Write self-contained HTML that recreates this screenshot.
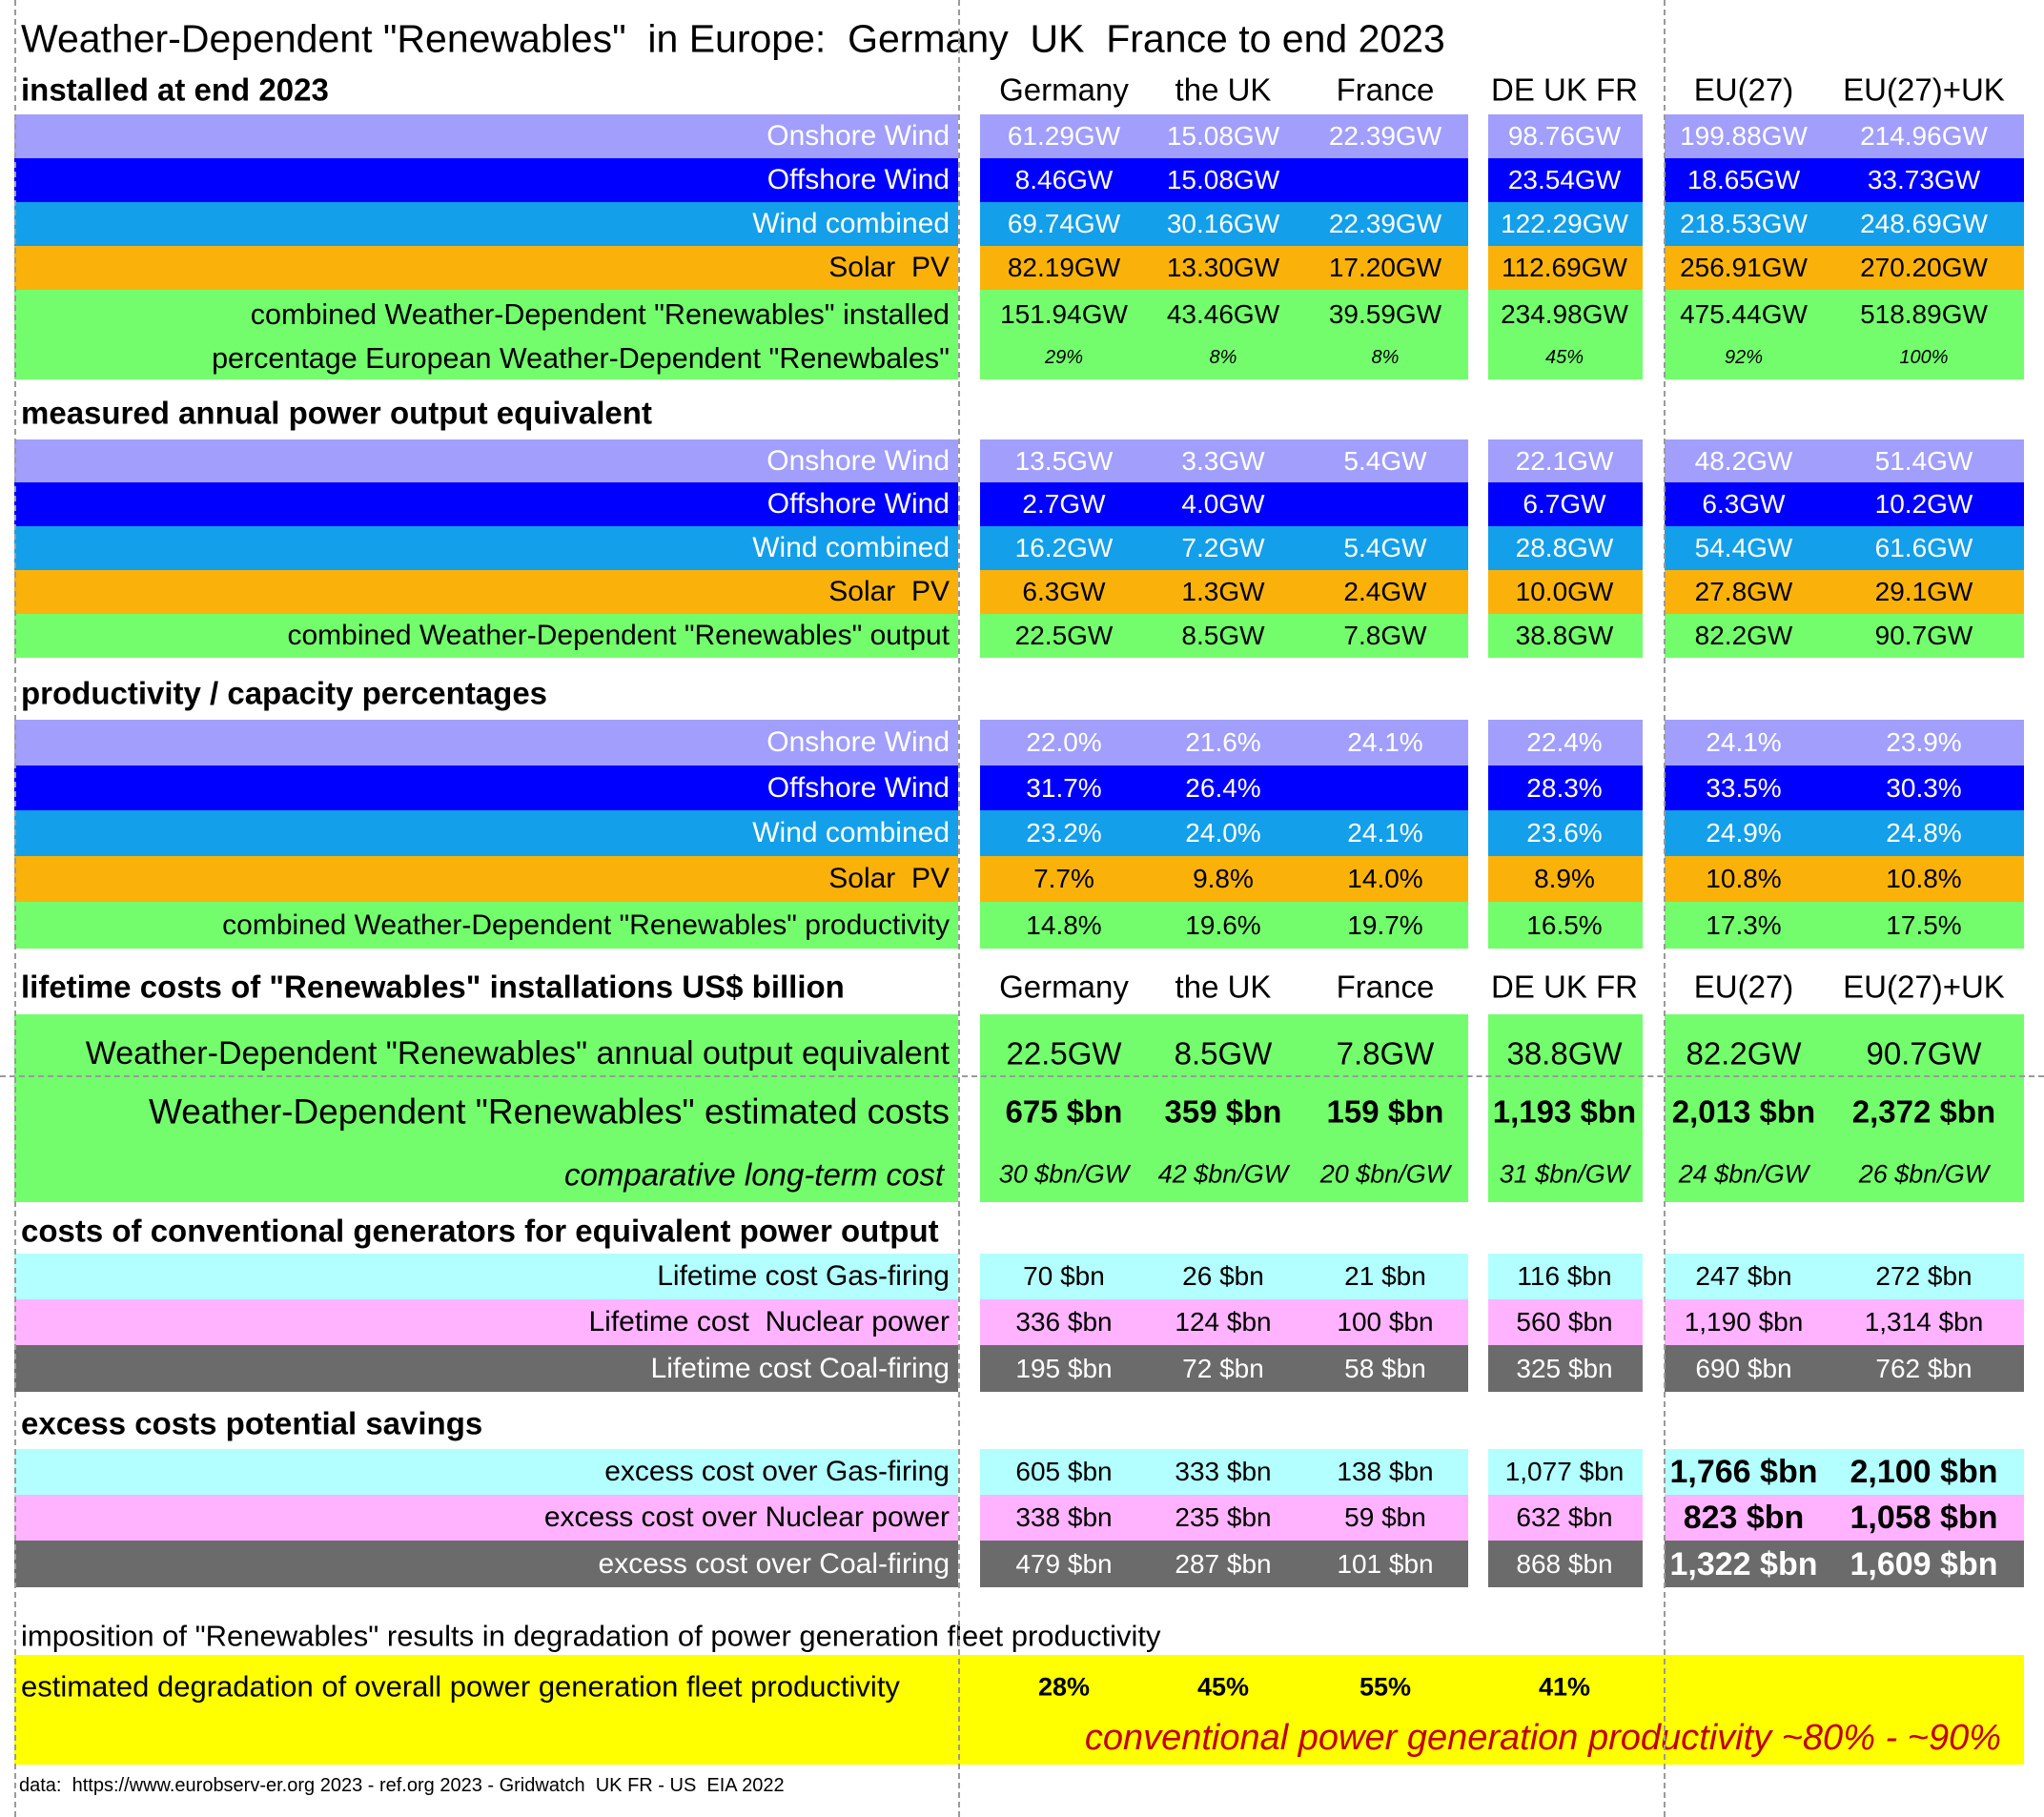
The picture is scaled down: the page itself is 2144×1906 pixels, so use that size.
<!DOCTYPE html>
<html><head><meta charset="utf-8">
<style>
html,body{margin:0;padding:0;background:#fff;}
#root{position:relative;width:2144px;height:1906px;overflow:hidden;font-family:"Liberation Sans",sans-serif;color:#000;}
.b{position:absolute;}
.t{position:absolute;white-space:pre;line-height:1;transform:translateY(-50%);}
.vd{position:absolute;top:0;height:1906px;width:0;border-left:2px dashed #9a9a9a;}
.hd{position:absolute;left:0;width:2144px;height:0;border-top:2px dashed #9a9a9a;}
</style></head>
<body>
<div id="root"></div>
<script>
const colCenters=[1116,1283,1453,1641,1829,2018];
const colNames=["Germany","the UK","France","DE UK FR","EU(27)","EU(27)+UK"];
const C={lav:"#a19ffb",blue:"#0000ff",sky:"#139fea",orange:"#fab20a",green:"#73fd6d",cyan:"#b3ffff",pink:"#ffb3ff",gray:"#6b6b6b",yellow:"#ffff00"};

const instOn=["61.29GW","15.08GW","22.39GW","98.76GW","199.88GW","214.96GW"];
const instOff=["8.46GW","15.08GW","","23.54GW","18.65GW","33.73GW"];
const instWind=["69.74GW","30.16GW","22.39GW","122.29GW","218.53GW","248.69GW"];
const instSolar=["82.19GW","13.30GW","17.20GW","112.69GW","256.91GW","270.20GW"];
const instComb=["151.94GW","43.46GW","39.59GW","234.98GW","475.44GW","518.89GW"];
const instPct=["29%","8%","8%","45%","92%","100%"];
const outOn=["13.5GW","3.3GW","5.4GW","22.1GW","48.2GW","51.4GW"];
const outOff=["2.7GW","4.0GW","","6.7GW","6.3GW","10.2GW"];
const outWind=["16.2GW","7.2GW","5.4GW","28.8GW","54.4GW","61.6GW"];
const outSolar=["6.3GW","1.3GW","2.4GW","10.0GW","27.8GW","29.1GW"];
const outComb=["22.5GW","8.5GW","7.8GW","38.8GW","82.2GW","90.7GW"];
const prOn=["22.0%","21.6%","24.1%","22.4%","24.1%","23.9%"];
const prOff=["31.7%","26.4%","","28.3%","33.5%","30.3%"];
const prWind=["23.2%","24.0%","24.1%","23.6%","24.9%","24.8%"];
const prSolar=["7.7%","9.8%","14.0%","8.9%","10.8%","10.8%"];
const prComb=["14.8%","19.6%","19.7%","16.5%","17.3%","17.5%"];
const costOut=["22.5GW","8.5GW","7.8GW","38.8GW","82.2GW","90.7GW"];
const costEst=["675 $bn","359 $bn","159 $bn","1,193 $bn","2,013 $bn","2,372 $bn"];
const costPerGW=["30 $bn/GW","42 $bn/GW","20 $bn/GW","31 $bn/GW","24 $bn/GW","26 $bn/GW"];
const convGas=["70 $bn","26 $bn","21 $bn","116 $bn","247 $bn","272 $bn"];
const convNuc=["336 $bn","124 $bn","100 $bn","560 $bn","1,190 $bn","1,314 $bn"];
const convCoal=["195 $bn","72 $bn","58 $bn","325 $bn","690 $bn","762 $bn"];
const exGas=["605 $bn","333 $bn","138 $bn","1,077 $bn","1,766 $bn","2,100 $bn"];
const exNuc=["338 $bn","235 $bn","59 $bn","632 $bn","823 $bn","1,058 $bn"];
const exCoal=["479 $bn","287 $bn","101 $bn","868 $bn","1,322 $bn","1,609 $bn"];
const degr=["28%","45%","55%","41%"];

const root=document.getElementById('root');
function box(x,y,w,h,col){const d=document.createElement('div');d.className='b';d.style.cssText=`left:${x}px;top:${y}px;width:${w}px;height:${h}px;background:${col}`;root.appendChild(d);return d;}
function txt(x,y,s,o){o=o||{};const d=document.createElement('div');d.className='t';d.textContent=s;
 let st=`top:${y}px;font-size:${o.fs||29}px;color:${o.c||'#000'};`;
 if(o.b)st+='font-weight:bold;';if(o.i)st+='font-style:italic;';
 if(o.a==='r')st+=`right:${2144-x}px;`;else if(o.a==='c')st+=`left:${x-200}px;width:400px;text-align:center;`;else st+=`left:${x}px;`;
 d.style.cssText=st;root.appendChild(d);return d;}
function blocks(y,h,col){box(15,y,990,h,col);box(1028,y,512,h,col);box(1561,y,162,h,col);box(1746,y,377,h,col);}
function row(y,h,col,label,vals,tc,o){o=o||{};
 blocks(y,h,col);
 const l=txt(996,y+h/2,label,{a:'r',c:tc,fs:o.lfs||30,i:o.li});
 
 
 vals.forEach((v,i)=>{const e=txt(colCenters[i],y+h/2,v,{a:'c',c:tc,fs:o.vb&&o.vb(i)?34:28,b:o.vb&&o.vb(i),i:o.vi});
  
  });}
function header(y,s,withCols){const h=txt(22,y,s,{fs:33,b:true});
 
 
 if(withCols)colNames.forEach((n,i)=>{const e=txt(colCenters[i],y,n,{a:'c',fs:33});
  
  });}

const title=txt(22,41,'Weather-Dependent "Renewables"  in Europe:  Germany  UK  France to end 2023',{fs:41});



header(94,'installed at end 2023',true);
row(120,46,C.lav,'Onshore Wind',instOn,'#fff');
row(166,46,C.blue,'Offshore Wind',instOff,'#fff');
row(212,46,C.sky,'Wind combined',instWind,'#fff');
row(258,46,C.orange,'Solar  PV',instSolar,'#000');
blocks(304,94,C.green);
txt(996,330,'combined Weather-Dependent "Renewables" installed',{a:'r',fs:30.5});
txt(996,376,'percentage European Weather-Dependent "Renewbales"',{a:'r',fs:30.5});
instComb.forEach((v,i)=>{const e=txt(colCenters[i],330,v,{a:'c',fs:28});
 
 });
instPct.forEach((v,i)=>{const e=txt(colCenters[i],375,v,{a:'c',fs:20,i:true});
 
 });

header(433,'measured annual power output equivalent',false);
row(461,45,C.lav,'Onshore Wind',outOn,'#fff');
row(506,46,C.blue,'Offshore Wind',outOff,'#fff');
row(552,46,C.sky,'Wind combined',outWind,'#fff');
row(598,46,C.orange,'Solar  PV',outSolar,'#000');
row(644,46,C.green,'combined Weather-Dependent "Renewables" output',outComb,'#000');

header(727,'productivity / capacity percentages',false);
row(755,48,C.lav,'Onshore Wind',prOn,'#fff');
row(803,47,C.blue,'Offshore Wind',prOff,'#fff');
row(850,48,C.sky,'Wind combined',prWind,'#fff');
row(898,48,C.orange,'Solar  PV',prSolar,'#000');
row(946,49,C.green,'combined Weather-Dependent "Renewables" productivity',prComb,'#000');

header(1035,'lifetime costs of "Renewables" installations US$ billion',true);
blocks(1064,197,C.green);
txt(996,1105,'Weather-Dependent "Renewables" annual output equivalent',{a:'r',fs:34});
txt(996,1166,'Weather-Dependent "Renewables" estimated costs',{a:'r',fs:37});
txt(990,1232,'comparative long-term cost',{a:'r',fs:33,i:true});
costOut.forEach((v,i)=>{const e=txt(colCenters[i],1105,v,{a:'c',fs:33});
 
 });
costEst.forEach((v,i)=>{const e=txt(colCenters[i],1166,v,{a:'c',fs:33,b:true});
 
 });
costPerGW.forEach((v,i)=>{const e=txt(colCenters[i],1232,v,{a:'c',fs:27,i:true});
 
 });

header(1291,'costs of conventional generators for equivalent power output',false);
row(1315,48,C.cyan,'Lifetime cost Gas-firing',convGas,'#000');
row(1363,48,C.pink,'Lifetime cost  Nuclear power',convNuc,'#000');
row(1411,49,C.gray,'Lifetime cost Coal-firing',convCoal,'#fff');

header(1493,'excess costs potential savings',false);
const big=i=>i>=4;
row(1520,48,C.cyan,'excess cost over Gas-firing',exGas,'#000',{vb:big});
row(1568,48,C.pink,'excess cost over Nuclear power',exNuc,'#000',{vb:big});
row(1616,49,C.gray,'excess cost over Coal-firing',exCoal,'#fff',{vb:big});

const imp=txt(22,1716,'imposition of "Renewables" results in degradation of power generation fleet productivity',{fs:31});


const yb=box(15,1736,2108,115,C.yellow);


txt(22,1769,'estimated degradation of overall power generation fleet productivity',{fs:31});
degr.forEach((v,i)=>{const e=txt(colCenters[i],1770,v,{a:'c',fs:27,b:true});
 
 });
const red=txt(2099,1823,'conventional power generation productivity ~80% - ~90%',{a:'r',fs:38,i:true,c:'#c00000'});


const fn=txt(20,1873,'data:  https://www.eurobserv-er.org 2023 - ref.org 2023 - Gridwatch  UK FR - US  EIA 2022',{fs:20});



[15,1005,1745].forEach(x=>{const d=document.createElement('div');d.className='vd';d.style.left=x+'px';
 
 
 root.appendChild(d);});
const hd=document.createElement('div');hd.className='hd';hd.style.top='1128px';


root.appendChild(hd);
</script>
</body></html>
